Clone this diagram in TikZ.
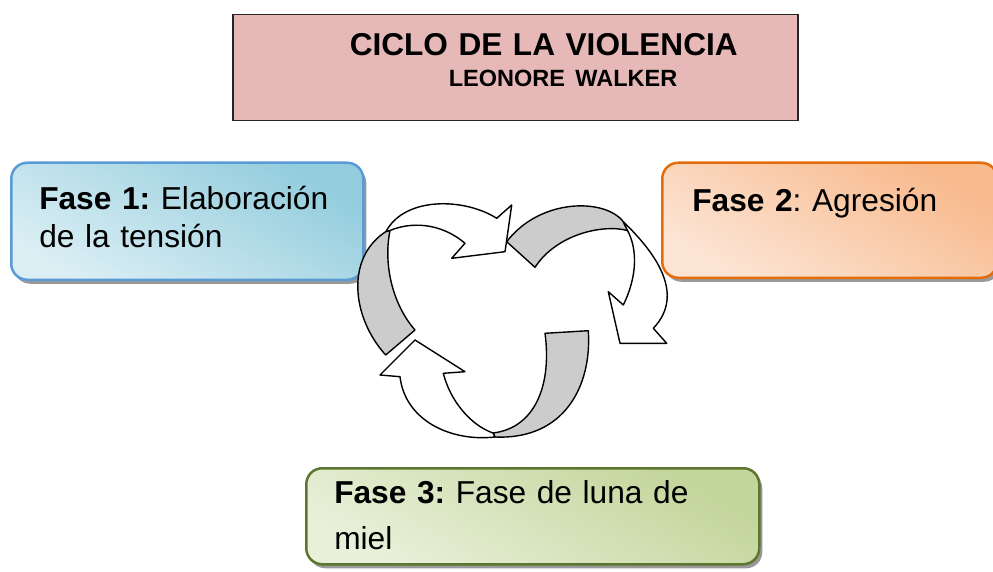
\documentclass[tikz,border=0pt]{standalone}
\usepackage{fontspec}
\setmainfont{Liberation Sans}
\usetikzlibrary{shadows}
\frenchspacing

\definecolor{rosaTitulo}{HTML}{E6B8B7}
\definecolor{azulBorde}{HTML}{5B9BD5}
\definecolor{azulOscuro}{HTML}{93CDDD}
\definecolor{azulClaro}{HTML}{DAEEF4}
\definecolor{naranjaBorde}{HTML}{E46C0A}
\definecolor{naranjaOscuro}{HTML}{F8B98C}
\definecolor{naranjaClaro}{HTML}{FCE5D5}
\definecolor{verdeBorde}{HTML}{5E7530}
\definecolor{verdeOscuro}{HTML}{C2D59A}
\definecolor{verdeClaro}{HTML}{E9F0DA}
\definecolor{grisCinta}{HTML}{CCCCCC}

\tikzset{
  fase/.style={anchor=north west, rounded corners=16pt, line width=2.5pt, align=left,
    inner ysep=0pt, inner xsep=28pt, font=\fontsize{31.7}{37.5}\selectfont,
    text height=23pt,
    drop shadow={shadow xshift=3pt, shadow yshift=-4pt, fill=black!40, opacity=1}},
  cinta/.style={draw=black, line width=1.4pt, line join=round, fill=white},
  cintagris/.style={cinta, fill=grisCinta}
}

\begin{document}
\begin{tikzpicture}[x=1pt, y=-1pt]
	\useasboundingbox (0,0) rectangle (993,572);
	
	%titulo
	\node (titulo) [anchor=north west, draw=black!85, line width=1.5pt, fill=rosaTitulo,
		minimum width=565pt, minimum height=106pt, inner sep=0pt, text width=565pt,
		align=left, font=\bfseries\fontsize{31.6}{31}\selectfont, text height=23pt, text depth=47pt]
		at (232,14) {\hspace*{117pt}CICLO DE LA VIOLENCIA\\\hspace*{216pt}{\fontsize{23.5}{31}\selectfont LEONORE WALKER}};
	
	%fases
	\node (fase1) [fase, draw=azulBorde, top color=azulOscuro, bottom color=azulClaro, shading angle=-30,
		minimum width=352pt, minimum height=117pt, text width=296pt, text depth=46pt]
		at (10,161.5) {\mbox{\textbf{Fase 1:} Elaboración}\\de la tensión};
	\node (fase2) [fase, draw=naranjaBorde, top color=naranjaOscuro, bottom color=naranjaClaro, shading angle=-30,
		minimum width=335pt, minimum height=115pt, inner xsep=30pt, text width=275pt, text depth=41pt]
		at (661,161.5) {\mbox{\textbf{Fase 2}: Agresión}};
	\node (fase3) [fase, draw=verdeBorde, top color=verdeOscuro, bottom color=verdeClaro, shading angle=-30,
		minimum width=453pt, minimum height=96pt, text width=397pt, text depth=48pt,
		font=\fontsize{31.7}{45.5}\selectfont]
		at (305,467) {\mbox{\textbf{Fase 3:} Fase de luna de}\\miel};
	
	%flecha 1
	\draw[cintagris] (385.7,355) .. controls (352,318) and (345,258) .. (386,231.5) -- (390,230.5) .. controls (383,265) and (393,305) .. (415,330) -- cycle;
	\draw[cinta] (386,231.5) .. controls (405,196) and (465,198) .. (496.7,218.3) -- (511.7,205) -- (505,251.7) -- (451.7,258.3) -- (465,243.3) .. controls (440,222) and (410,222) .. (390,230.5) -- cycle;
	
	%flecha 2
	\draw[cintagris] (506.7,241.7) .. controls (540,198) and (605,198) .. (623.3,221.7) -- (627.5,230.5) .. controls (603,224) and (556.7,234) .. (535,267.3) -- cycle;
	\draw[cinta] (623.3,221.7) .. controls (645,243) and (690,290) .. (653.3,328.3) -- (666.7,343.3) -- (620,343.3) -- (608.3,291.7) -- (623.3,305) .. controls (638,275) and (637,248) .. (627.5,230.5) -- cycle;
	
	%flecha 3
	\draw[cintagris] (545,333.3) -- (588.3,330.7) .. controls (592,385) and (565,440) .. (495,437) -- (493,433) .. controls (535,428) and (552,385) .. (545,333.3) -- cycle;
	\draw[cinta] (495,437) .. controls (450,442) and (405,420) .. (400,376.7) -- (380,375) -- (415,340) -- (465,371.7) -- (443.3,373.3) .. controls (450,400) and (470,425) .. (493,433) -- cycle;
\end{tikzpicture}
\end{document}
